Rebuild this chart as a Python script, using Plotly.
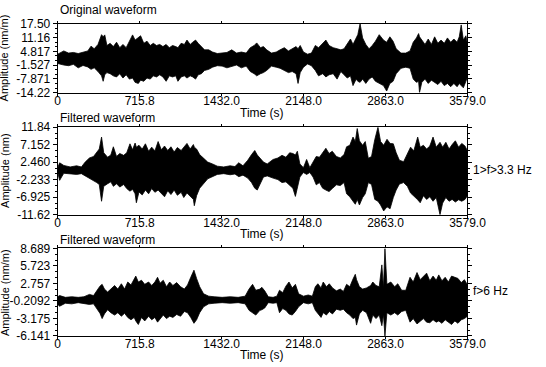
import plotly.graph_objects as go

# ---------------- data (upper / lower envelope) ----------------
t1 = [0, 53, 95, 137, 179, 221, 263, 291, 319, 352, 383, 397, 411, 430, 458, 486, 514, 542, 570, 598,
      626, 654, 676, 704, 724, 752, 780, 808, 835, 863, 891, 919, 947, 975, 1003, 1031, 1050, 1078, 1106, 1129,
      1157, 1179, 1204, 1227, 1255, 1282, 1319, 1352, 1394, 1436, 1478, 1520, 1562, 1604, 1646, 1682, 1716, 1738, 1771,
      1797, 1825, 1867, 1909, 1942, 1979, 2015, 2048, 2082, 2099, 2118, 2146, 2182, 2216, 2250, 2278, 2314, 2342, 2370, 2406,
      2440, 2473, 2501, 2529, 2557, 2579, 2607, 2621, 2641, 2663, 2691, 2719, 2747, 2775, 2808, 2845, 2873, 2901, 2929, 2956,
      2998, 3040, 3077, 3105, 3133, 3152, 3160, 3180, 3208, 3236, 3264, 3292, 3320, 3348, 3376, 3404, 3432, 3460, 3488, 3507,
      3524, 3543, 3565, 3579]
u1 = [3.5, 5.0, 4.0, 4.3, 3.8, 4.3, 5.0, 7.2, 6.0, 8.0, 12.5, 11.5, 12.4, 7.5, 8.5, 7.0, 9.0, 6.5, 8.0, 6.5,
      9.5, 12.4, 10.0, 11.0, 12.0, 8.5, 9.5, 7.5, 8.5, 7.5, 8.0, 7.0, 8.0, 6.5, 7.5, 7.0, 6.5, 8.5, 8.0, 10.0,
      8.0, 9.0, 10.0, 8.5, 7.0, 5.5, 5.5, 4.5, 3.8, 4.0, 4.3, 5.5, 4.0, 4.5, 4.0, 6.5, 7.5, 8.7, 6.5,
      7.0, 5.5, 4.0, 4.5, 5.5, 6.5, 5.0, 6.0, 7.0, 6.0, 7.5, 4.5, 3.5, 4.0, 7.5, 6.5, 8.5, 10.0, 7.5, 6.5,
      6.0, 5.5, 6.0, 8.5, 10.5, 8.0, 11.5, 12.5, 17.5, 11.0, 8.0, 6.0, 7.5, 9.5, 12.5, 10.0, 9.0, 11.5, 9.5, 6.0,
      4.0, 4.0, 5.0, 9.0, 11.0, 13.0, 11.5, 10.0, 8.0, 10.5, 8.0, 11.5, 8.5, 10.0, 8.5, 11.0, 9.0, 10.5, 9.0, 11.5,
      17.0, 10.0, 12.0, 8.0]
l1 = [-0.8, -1.5, -1.8, -1.2, -2.8, -1.7, -2.4, -3.5, -2.8, -4.5, -6.5, -9.0, -6.0, -5.0, -5.5, -6.5, -7.0, -5.5, -7.5, -6.0,
      -8.0, -7.5, -9.5, -10.0, -8.5, -9.0, -7.5, -8.0, -6.5, -7.0, -6.0, -7.0, -9.0, -6.5, -7.0, -6.5, -9.0, -7.0, -6.5, -7.5,
      -6.5, -7.0, -8.0, -6.0, -5.5, -4.0, -3.5, -2.5, -1.8, -2.0, -2.8, -2.0, -1.5, -2.8, -2.0, -4.5, -5.5, -6.5, -5.5,
      -5.0, -4.0, -2.0, -2.5, -3.0, -4.0, -5.0, -4.5, -5.5, -10.0, -5.0, -2.5, -1.0, -1.8, -4.0, -6.5, -5.5, -7.0, -6.0, -5.5,
      -8.0, -4.5, -6.0, -7.5, -6.5, -11.0, -8.0, -9.0, -9.5, -8.0, -10.0, -8.0, -7.0, -9.0, -10.0, -11.0, -13.5, -10.0, -9.0, -5.5,
      -3.0, -2.5, -3.0, -8.0, -9.5, -9.0, -14.2, -9.5, -8.0, -10.0, -8.5, -9.5, -10.5, -9.0, -11.0, -10.0, -11.5, -10.0, -11.5, -10.0,
      -11.0, -12.0, -9.0, -7.0]

t2 = [0, 17, 53, 109, 165, 207, 240, 277, 313, 341, 363, 383, 402, 436, 464, 486, 514, 542, 576, 603,
      631, 654, 676, 687, 710, 738, 766, 794, 821, 849, 877, 905, 933, 961, 989, 1017, 1045, 1078, 1101, 1129,
      1157, 1185, 1193, 1213, 1240, 1268, 1310, 1352, 1394, 1450, 1506, 1548, 1581, 1618, 1660, 1693, 1721, 1743, 1771,
      1797, 1830, 1881, 1923, 1959, 1993, 2026, 2054, 2076, 2093, 2115, 2146, 2174, 2202, 2230, 2258, 2286, 2314, 2342, 2370,
      2398, 2434, 2468, 2501, 2523, 2551, 2579, 2599, 2616, 2635, 2663, 2686, 2713, 2741, 2769, 2797, 2820, 2847, 2876, 2903,
      2931, 2956, 2984, 3021, 3054, 3082, 3110, 3144, 3166, 3194, 3222, 3250, 3278, 3306, 3339, 3362, 3390, 3418, 3445, 3473,
      3501, 3529, 3557, 3579]
u2 = [1.0, 2.3, 1.6, 1.2, 1.5, 1.2, 2.5, 3.6, 4.0, 5.0, 6.0, 9.2, 5.0, 3.8, 4.4, 6.6, 4.0, 4.8, 4.3, 5.0,
      7.4, 5.8, 7.6, 6.5, 7.0, 6.0, 7.4, 5.4, 6.5, 5.5, 8.0, 5.8, 6.8, 5.6, 6.6, 5.2, 6.4, 5.6, 6.4, 7.5,
      6.0, 7.2, 6.5, 6.0, 4.5, 3.8, 2.5, 2.0, 1.4, 1.2, 1.5, 1.3, 2.3, 1.5, 3.0, 4.5, 5.6, 4.4, 3.5,
      2.5, 2.0, 3.2, 3.6, 4.3, 3.8, 5.0, 4.8, 4.4, 5.4, 2.0, 1.0, 3.2, 1.0, 2.4, 4.0, 3.8, 5.0, 6.2, 4.8,
      5.4, 4.0, 3.6, 4.5, 6.6, 7.0, 9.2, 8.0, 11.5, 8.2, 7.0, 8.0, 3.5, 4.0, 8.5, 11.84, 8.0, 7.0, 8.6, 7.5,
      7.4, 5.0, 3.0, 2.6, 4.5, 6.5, 5.5, 9.2, 6.5, 7.0, 6.0, 6.8, 9.2, 6.5, 7.8, 6.5, 7.8, 6.0, 7.2, 8.2,
      6.5, 7.5, 6.8, 5.5]
l2 = [-0.3, -2.4, -0.5, -0.6, -0.8, -0.6, -1.2, -2.0, -2.5, -3.0, -3.5, -8.0, -4.0, -3.3, -2.8, -4.0, -3.3, -4.2, -3.5, -4.6,
      -5.3, -4.8, -6.0, -8.4, -5.5, -6.3, -5.0, -6.0, -4.6, -5.6, -5.0, -6.0, -6.8, -5.2, -6.2, -5.0, -6.4, -5.6, -7.0, -5.8,
      -6.6, -7.5, -9.2, -6.5, -4.5, -3.5, -2.0, -1.4, -0.8, -0.6, -0.9, -0.7, -1.4, -1.0, -1.8, -3.0, -4.5, -5.0, -3.0,
      -1.5, -1.2, -1.8, -2.2, -3.0, -2.8, -3.8, -4.5, -6.7, -4.0, -1.5, -0.3, -0.8, -0.3, -1.5, -3.6, -3.0, -4.5, -5.0, -5.4,
      -4.6, -3.6, -3.8, -3.0, -6.0, -6.8, -8.0, -8.8, -7.5, -9.0, -7.0, -6.0, -3.0, -3.5, -7.5, -8.0, -9.0, -10.6, -9.5, -10.0,
      -7.0, -5.0, -3.4, -3.0, -4.0, -5.8, -6.5, -7.6, -8.4, -6.5, -7.5, -6.8, -8.0, -7.0, -11.6, -8.5, -7.0, -8.0, -7.5, -8.2,
      -7.6, -8.0, -7.5, -6.5]

t3 = [0, 17, 67, 123, 179, 229, 277, 313, 341, 369, 388, 408, 436, 464, 497, 525, 556, 584, 612, 640,
      668, 682, 704, 732, 760, 794, 821, 849, 872, 894, 922, 950, 978, 1006, 1039, 1073, 1106, 1134, 1162, 1190,
      1213, 1240, 1274, 1319, 1366, 1436, 1506, 1576, 1637, 1671, 1702, 1730, 1766,
      1783, 1808, 1839, 1881, 1914, 1937, 1965, 1993, 2020, 2048, 2076, 2104, 2146, 2188, 2224, 2250, 2272, 2300, 2319, 2347,
      2372, 2400, 2434, 2468, 2495, 2523, 2551, 2579, 2599, 2610, 2635, 2663, 2697, 2733, 2752, 2780, 2808, 2831, 2845, 2858,
      2875, 2909, 2943, 2970, 3004, 3040, 3077, 3105, 3138, 3166, 3194, 3222, 3250, 3278, 3306, 3328, 3356, 3384, 3412, 3440,
      3468, 3496, 3524, 3552, 3579]
u3 = [0.5, 0.7, 0.4, 0.5, 0.4, 0.5, 0.9, 0.7, 1.5, 2.3, 2.6, 1.8, 1.3, 1.8, 2.4, 1.8, 2.7, 1.8, 3.0, 2.5,
      3.4, 4.0, 3.0, 3.3, 2.6, 3.0, 2.4, 3.0, 3.8, 2.8, 3.3, 2.2, 3.0, 2.4, 2.9, 2.2, 1.8, 2.5, 3.8, 5.0,
      3.6, 2.2, 1.0, 0.6, 0.5, 0.4, 0.5, 0.4, 0.6, 1.8, 2.6, 1.6, 1.8,
      2.1, 1.5, 0.5, 0.4, 0.6, 1.6, 1.2, 2.3, 3.0, 2.0, 2.6, 1.0, 0.6, 0.8, 0.6, 2.2, 2.7, 2.0, 3.0, 2.2,
      2.7, 2.0, 1.5, 1.8, 1.4, 2.6, 2.2, 3.5, 4.3, 3.4, 2.2, 1.8, 2.0, 2.4, 3.0, 2.4, 2.2, 5.9, 2.0, 8.689,
      2.6, 3.0, 2.2, 2.7, 1.6, 1.6, 3.8, 3.0, 4.6, 3.4, 4.0, 4.5, 3.2, 4.0, 3.3, 4.2, 3.2, 3.8, 3.0, 4.0,
      3.8, 3.6, 2.9, 3.4, 2.5]
l3 = [-0.8, -1.1, -0.6, -0.7, -0.5, -0.7, -0.8, -0.7, -1.5, -2.3, -3.2, -2.4, -1.7, -2.2, -2.6, -2.2, -2.8, -2.3, -3.0, -3.4,
      -3.0, -3.6, -4.2, -3.0, -3.6, -2.8, -3.4, -3.0, -3.8, -3.2, -2.6, -3.2, -2.8, -3.0, -2.5, -2.8, -2.0, -2.2, -3.0, -4.0,
      -3.4, -2.2, -1.2, -0.7, -0.6, -0.5, -0.6, -0.5, -0.7, -1.8, -2.2, -2.6, -1.8,
      -1.7, -1.4, -0.5, -0.6, -0.5, -2.2, -1.5, -1.8, -2.4, -2.6, -2.0, -1.2, -0.5, -0.7, -0.5, -1.8, -2.4, -3.0, -2.2, -2.6,
      -2.0, -2.4, -1.6, -1.8, -1.6, -2.2, -2.6, -3.2, -3.0, -4.3, -2.4, -1.8, -2.2, -4.0, -2.6, -3.2, -2.6, -4.4, -2.5, -6.141,
      -2.2, -2.6, -2.2, -2.6, -2.0, -1.8, -3.8, -3.2, -4.1, -3.6, -3.2, -3.8, -3.9, -3.4, -3.8, -3.6, -4.0, -3.4, -3.8, -4.2,
      -3.6, -4.0, -3.4, -3.2, -2.8]

x_ticks = [0, 715.8, 1432.0, 2148.0, 2863.0, 3579.0]
x_tick_labels = ["0", "715.8", "1432.0", "2148.0", "2863.0", "3579.0"]

y1_ticks = [17.50, 11.16, 4.817, -1.527, -7.871, -14.22]
y1_labels = ["17.50", "11.16", "4.817", "-1.527", "-7.871", "-14.22"]
y2_ticks = [11.84, 7.152, 2.460, -2.233, -6.925, -11.62]
y2_labels = ["11.84", "7.152", "2.460", "-2.233", "-6.925", "-11.62"]
y3_ticks = [8.689, 5.723, 2.757, -0.2092, -3.175, -6.141]
y3_labels = ["8.689", "5.723", "2.757", "-0.2092", "-3.175", "-6.141"]

titles = ["Original waveform", "Filtered waveform", "Filtered waveform"]
band_labels = ["", "1>f>3.3 Hz", "f>6 Hz"]
y_titles = ["Amplitude (nm/m)", "Amplitude (nm)", "Amplitude (nm/m)"]

# ---------------- figure ----------------
W, H = 546, 367
fig = go.Figure()

panels = [(t1, u1, l1, y1_ticks, y1_labels), (t2, u2, l2, y2_ticks, y2_labels), (t3, u3, l3, y3_ticks, y3_labels)]
geom = [(17.5, 89.0), (125.0, 216.0), (251.0, 342.0)]
x0px, x1px = 57.0, 484.0

for i, (t, u, l, yt, yl) in enumerate(panels):
    k = "" if i == 0 else str(i + 1)
    fig.add_trace(go.Scatter(
        x=t + t[::-1], y=u + l[::-1], mode="lines", fill="toself",
        fillcolor="black", line=dict(color="black", width=0.8),
        xaxis="x" + k, yaxis="y" + k, hoverinfo="skip", showlegend=False))
    top, bot = geom[i]
    ymin, ymax = yt[-1], yt[0]
    axis_common = dict(showline=True, linecolor="black", linewidth=1, mirror="ticks",
                       ticks="outside", tickcolor="black", showgrid=False, zeroline=False,
                       tickfont=dict(size=12, color="black"))
    fig.layout["xaxis" + k] = dict(
        domain=[x0px / W, x1px / W], range=[0, 3579], anchor="y" + k,
        tickmode="array", tickvals=x_ticks, ticktext=x_tick_labels, ticklen=2,
        ticklabelstandoff=-5, **axis_common)
    fig.layout["yaxis" + k] = dict(
        domain=[1 - bot / H, 1 - top / H], range=[ymin, ymax], anchor="x" + k,
        tickmode="array", tickvals=yt, ticktext=yl, ticklen=4,
        minor=dict(ticks="outside", ticklen=2, tickcolor="black", tickmode="linear",
                   tick0=ymin, dtick=(ymax - ymin) / 15, showgrid=False),
        **axis_common)

ann = []
title_y = [3.5, 115.5, 242.0]
time_y = [110.0, 236.0, 361.5]
band_y = [None, 169.5, 295.5]
ytitle_y = [53.0, 170.0, 297.0]
for i in range(3):
    ann.append(dict(text=titles[i], x=x0px / W, y=1 - title_y[i] / H, xref="paper", yref="paper",
                    xanchor="left", yanchor="middle", showarrow=False, font=dict(size=12)))
    ann.append(dict(text="Time (s)", x=270 / W, y=1 - time_y[i] / H, xref="paper", yref="paper",
                    xanchor="center", yanchor="middle", showarrow=False, font=dict(size=12)))
    ann.append(dict(text=y_titles[i], x=1.5 / W, y=1 - ytitle_y[i] / H, xref="paper", yref="paper",
                    xanchor="center", yanchor="middle", textangle=-90, showarrow=False, font=dict(size=11)))
    if band_labels[i]:
        ann.append(dict(text=band_labels[i], x=488 / W, y=1 - band_y[i] / H, xref="paper", yref="paper",
                        xanchor="left", yanchor="middle", showarrow=False, font=dict(size=12)))

fig.update_layout(width=W, height=H, margin=dict(l=0, r=0, t=0, b=0),
                  paper_bgcolor="white", plot_bgcolor="white",
                  font=dict(family="Liberation Sans, Arial, sans-serif", size=12, color="black"),
                  showlegend=False, annotations=ann)

fig.write_html("out.html")
